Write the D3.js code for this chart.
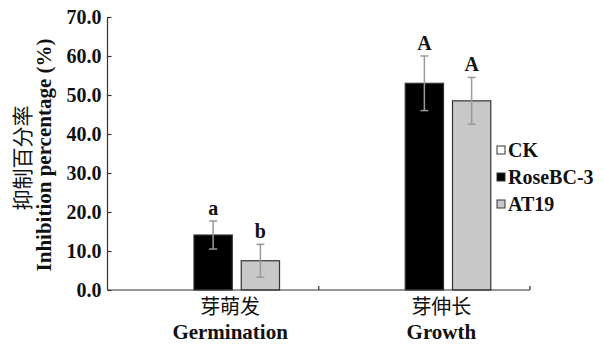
<!DOCTYPE html>
<html>
<head>
<meta charset="utf-8">
<script src="https://cdn.jsdelivr.net/npm/d3@7"></script>
<style>
  body { margin: 0; background: #fff; }
  svg text { fill: #111; }
</style>
</head>
<body>
<svg width="604" height="347"></svg>
<script>
var categories = ["Germination", "Growth"];
var categoryCn = ["芽萌发", "芽伸长"];
var seriesNames = ["CK", "RoseBC-3", "AT19"];
var ckValues = [0, 0];
var roseValues = [14.1, 53.0];
var roseErrors = [3.6, 7.0];
var atValues = [7.5, 48.5];
var atErrors = [4.2, 6.0];
var roseLetters = ["a", "A"];
var atLetters = ["b", "A"];
var yTicks = [0, 10, 20, 30, 40, 50, 60, 70];

var SERIF = "'Liberation Serif', 'Times New Roman', Times, serif";
var CJK = "'Noto Sans CJK SC', 'Noto Sans CJK JP', sans-serif";

var svg = d3.select("svg");
var fills = {"CK": "#fff", "RoseBC-3": "#000", "AT19": "#c8c8c8"};

var x = d3.scaleBand().domain(categories).range([107.5, 530]).padding(0);
var xs = d3.scaleBand().domain(seriesNames).range([0, x.bandwidth()])
    .paddingInner(0.19).paddingOuter(0.83);
var y = d3.scaleLinear().domain([0, 70]).range([290, 17]);

// one row per bar
var rows = [];
categories.forEach(function(c, i) {
  rows.push({cat: c, s: "CK", v: ckValues[i], e: 0, l: ""});
  rows.push({cat: c, s: "RoseBC-3", v: roseValues[i], e: roseErrors[i], l: roseLetters[i]});
  rows.push({cat: c, s: "AT19", v: atValues[i], e: atErrors[i], l: atLetters[i]});
});

var g = svg.append("g");

g.selectAll("rect.bar")
  .data(rows.filter(function(d) { return d.v > 0; }))
  .enter().append("rect")
    .attr("class", "bar")
    .attr("x", function(d) { return x(d.cat) + xs(d.s); })
    .attr("y", function(d) { return y(d.v); })
    .attr("width", xs.bandwidth())
    .attr("height", function(d) { return y(0) - y(d.v); })
    .attr("fill", function(d) { return fills[d.s]; })
    .attr("stroke", "#333")
    .attr("stroke-width", 1.2);

// error bars
var eb = g.selectAll("g.err")
  .data(rows.filter(function(d) { return d.e > 0; }))
  .enter().append("g")
    .attr("class", "err")
    .attr("transform", function(d) { return "translate(" + (x(d.cat) + xs(d.s) + xs.bandwidth() / 2) + ",0)"; });
eb.append("line")
    .attr("y1", function(d) { return y(d.v - d.e); })
    .attr("y2", function(d) { return y(d.v + d.e); })
    .attr("stroke", "#999").attr("stroke-width", 1.5);
eb.append("line")
    .attr("x1", -4).attr("x2", 4)
    .attr("y1", function(d) { return y(d.v - d.e); })
    .attr("y2", function(d) { return y(d.v - d.e); })
    .attr("stroke", "#999").attr("stroke-width", 1.5);
eb.append("line")
    .attr("x1", -4).attr("x2", 4)
    .attr("y1", function(d) { return y(d.v + d.e); })
    .attr("y2", function(d) { return y(d.v + d.e); })
    .attr("stroke", "#999").attr("stroke-width", 1.5);
eb.append("text")
    .attr("y", function(d) { return y(d.v + d.e) - 6; })
    .attr("text-anchor", "middle")
    .attr("font-family", SERIF)
    .attr("font-size", 20)
    .attr("font-weight", "bold")
    .text(function(d) { return d.l; });

// y axis
var yAxis = svg.append("g")
    .attr("transform", "translate(107.5,0)")
    .call(d3.axisLeft(y).tickValues(yTicks).tickSize(-4).tickPadding(6)
      .tickFormat(d3.format(".1f")));
yAxis.selectAll("text").attr("font-size", 20).attr("font-weight", "bold")
    .attr("font-family", SERIF);
yAxis.selectAll("line, path").attr("stroke", "#333").attr("stroke-width", 1.2);
yAxis.select("path").attr("d", "M0," + y(70) + "V" + y(0));

// x axis
var xAxis = svg.append("g")
    .attr("transform", "translate(0,290)");
xAxis.append("line")
    .attr("x1", x.range()[0]).attr("x2", x.range()[1])
    .attr("stroke", "#333").attr("stroke-width", 1.2);
xAxis.selectAll("line.tk")
  .data(categories)
  .enter().append("line")
    .attr("class", "tk")
    .attr("x1", function(d) { return x(d) + x.bandwidth(); })
    .attr("x2", function(d) { return x(d) + x.bandwidth(); })
    .attr("y1", 0).attr("y2", -4)
    .attr("stroke", "#333").attr("stroke-width", 1.2);
xAxis.selectAll("text.cn")
  .data(categories)
  .enter().append("text")
    .attr("class", "cn")
    .attr("x", function(d) { return x(d) + x.bandwidth() / 2 + 17; })
    .attr("y", 24)
    .attr("text-anchor", "middle")
    .attr("font-family", CJK)
    .attr("font-size", 20)
    .text(function(d, i) { return categoryCn[i]; });
xAxis.selectAll("text.en")
  .data(categories)
  .enter().append("text")
    .attr("class", "en")
    .attr("x", function(d) { return x(d) + x.bandwidth() / 2 + 17; })
    .attr("y", 49)
    .attr("text-anchor", "middle")
    .attr("font-family", SERIF)
    .attr("font-weight", "bold")
    .attr("font-size", 21)
    .text(function(d) { return d; });

// y title
svg.append("text")
    .attr("transform", "translate(30,158) rotate(-90)")
    .attr("text-anchor", "middle")
    .attr("font-family", CJK)
    .attr("font-size", 21)
    .text("抑制百分率");
svg.append("text")
    .attr("transform", "translate(51,155) rotate(-90)")
    .attr("text-anchor", "middle")
    .attr("font-family", SERIF)
    .attr("font-weight", "bold")
    .attr("font-size", 21)
    .text("Inhibition percentage (%)");

// legend
var leg = svg.append("g").attr("transform", "translate(497,150)");
var li = leg.selectAll("g").data(seriesNames).enter().append("g")
    .attr("transform", function(d, i) { return "translate(0," + i * 27 + ")"; });
li.append("rect")
    .attr("x", 0).attr("y", -4).attr("width", 8).attr("height", 8)
    .attr("fill", function(d) { return fills[d]; })
    .attr("stroke", "#333").attr("stroke-width", 1);
li.append("text")
    .attr("x", 11).attr("y", 7)
    .attr("font-family", SERIF)
    .attr("font-weight", "bold")
    .attr("font-size", 20)
    .text(function(d) { return d; });
</script>
</body>
</html>
